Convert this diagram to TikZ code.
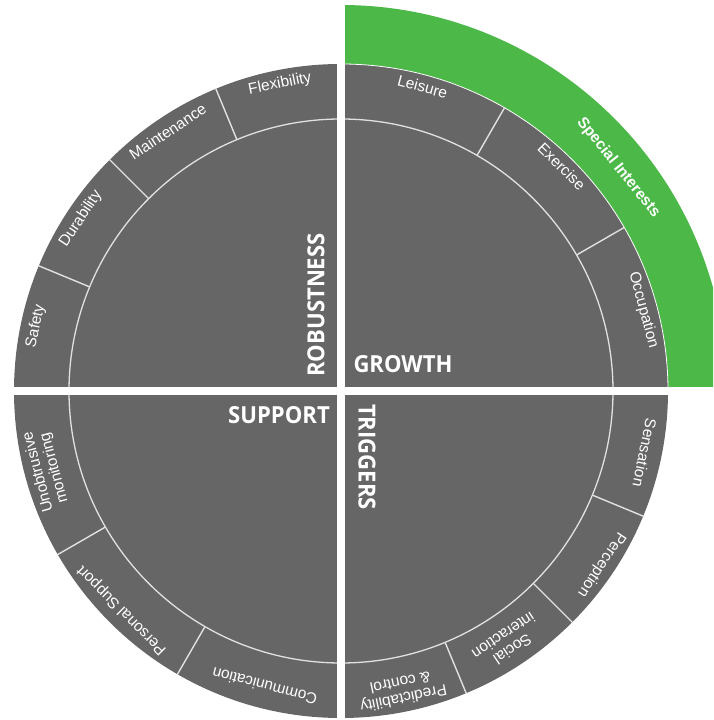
\documentclass[tikz,border=0pt]{standalone}
\usepackage{fontspec}
\setmainfont{Liberation Sans}
\newfontfamily\headfont[FakeStretch=0.94]{Open Sans}
\usetikzlibrary{calc}
\definecolor{wheel}{RGB}{102,102,102}
\definecolor{greenband}{RGB}{76,184,72}
\definecolor{ringline}{RGB}{225,225,225}
\begin{document}
\begin{tikzpicture}[x=1pt,y=1pt,
  lab/.style={text=white,font=\fontsize{15.5}{16.5}\selectfont,inner sep=0pt,align=center},
  greenlab/.style={text=white,font=\bfseries\fontsize{15.5}{16.5}\selectfont,inner sep=0pt},
  head/.style={text=white,font=\headfont\bfseries\fontsize{23.5}{24}\selectfont,inner sep=0pt},
  divider/.style={draw=ringline,line width=1.4pt},
  gapbar/.style={fill=white}
]
\useasboundingbox (0,0) rectangle (713,720);
\coordinate (c) at (341,329);
% green outer band (top-right)
\begin{scope}
  \clip (345,333) rectangle (713,720);
  \fill[greenband] (c) circle (386);
\end{scope}
% grey wheel
\fill[wheel] (c) circle (327);
\draw[white,line width=0.8pt] ($(c)+(0:327)$) arc (0:90:327);
% inner circle
\draw[ringline,line width=1.3pt] (c) circle (272);
% radial dividers
\foreach \a in {112.5,135,157.5,60,30,210,240,337.5,315,292.5}
  \draw[divider] ($(c)+(\a:272)$) -- ($(c)+(\a:327.5)$);
% white cross between quadrants
\fill[gapbar] (337,0) rectangle (345,720);
\fill[gapbar] (0,325) rectangle (713,333);
% ring labels
\node[lab,rotate=11.25] (flex) at ($(c)+(101.25:313)$) {Flexibility};
\node[lab,rotate=33.75] (maint) at ($(c)+(123.75:312)$) {Maintenance};
\node[lab,rotate=56.5] (dura) at ($(c)+(146.5:312)$) {Durability};
\node[lab,rotate=78] (safe) at ($(c)+(168:312)$) {Safety};
\node[lab,rotate=-15] (leis) at ($(c)+(75:315)$) {Leisure};
\node[lab,rotate=-44.5] (exer) at ($(c)+(45.5:315)$) {Exercise};
\node[lab,rotate=-75] (occu) at ($(c)+(15:313)$) {Occupation};
\node[greenlab,rotate=-51.2] (spec) at ($(c)+(38.8:356)$) {Special Interests};
\node[lab,rotate=105] (unob) at ($(c)+(195:305)$) {Unobtrusive\\monitoring};
\node[lab,rotate=135] (pers) at ($(c)+(225:310)$) {Personal Support};
\node[lab,rotate=165.5] (comm) at ($(c)+(255.5:305)$) {Communication};
\node[lab,rotate=258.5] (sens) at ($(c)+(348.5:310)$) {Sensation};
\node[lab,rotate=236.3] (perc) at ($(c)+(326.3:313)$) {Perception};
\node[lab,rotate=213.6] (soci) at ($(c)+(303.6:302)$) {Social\\interaction};
\node[lab,rotate=191.5] (pred) at ($(c)+(281.5:306)$) {Predictability\\\& control};
% quadrant titles
\node[head,rotate=90] (robust) at (316,415) {ROBUSTNESS};
\node[head] (growth) at (403,356) {GROWTH};
\node[head] (support) at (279,304.5) {SUPPORT};
\node[head,rotate=-90] (trig) at (367,263) {TRIGGERS};
\end{tikzpicture}
\end{document}
